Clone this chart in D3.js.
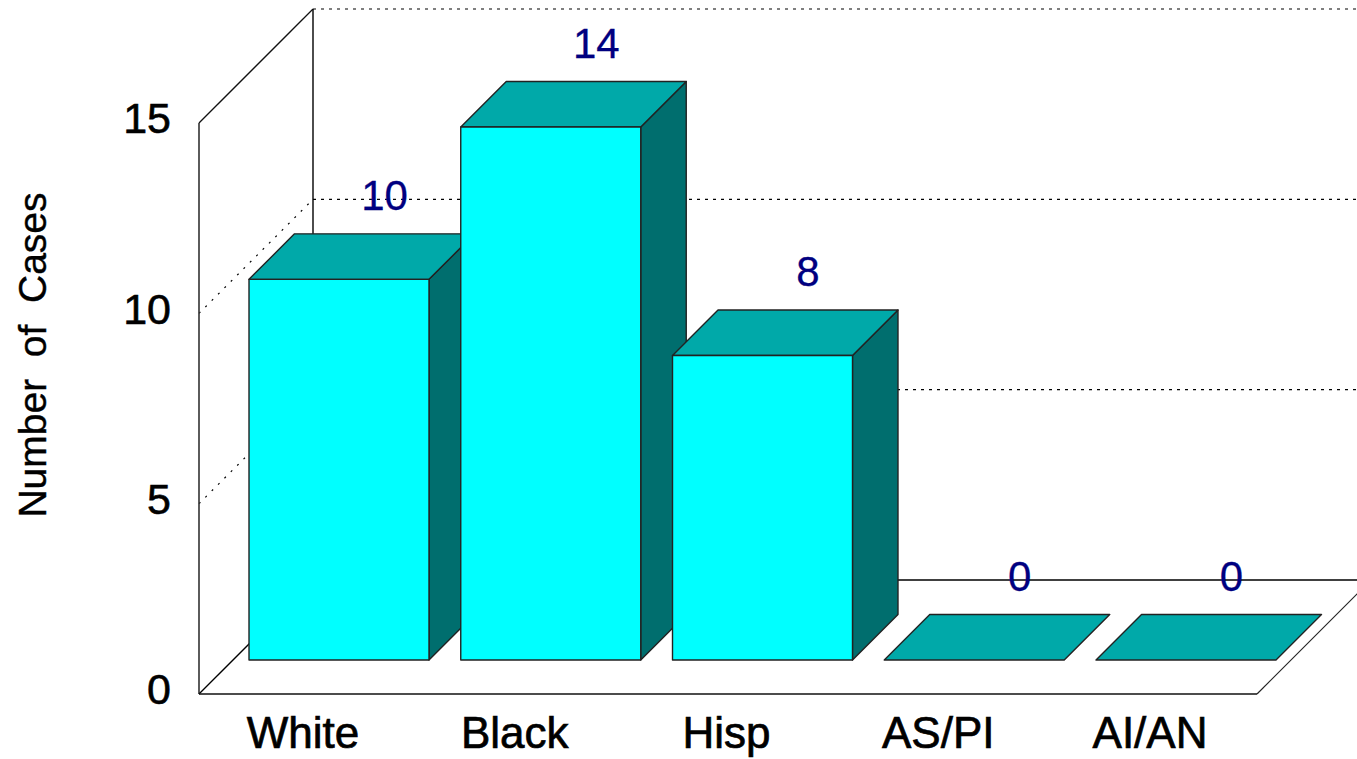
<!DOCTYPE html>
<html>
<head>
<meta charset="utf-8">
<script src="https://cdn.jsdelivr.net/npm/d3@7.9.0/dist/d3.min.js"></script>
<style>
  html, body { margin: 0; padding: 0; background: #fff; overflow: hidden; }
  text { font-family: "Liberation Sans", Arial, sans-serif; }
</style>
</head>
<body>
<svg id="chart" width="1357" height="759"></svg>
<script>
const categories = ['White', 'Black', 'Hisp', 'AS/PI', 'AI/AN'];
const cases = [10, 14, 8, 0, 0];
const yTicks = [0, 5, 10, 15];
const yTitle = 'Number\u00a0 of\u00a0 Cases';

const svg = d3.select('#chart');

// front plane of the box, the back wall is this shifted by wallDx / wallDy
const boxLeft = 199, boxRight = 1257;
const wallDx = 114, wallDy = -114;
// bars sit a bit inside the box
const barShift = -34, barDepth = 45.5;

const y = d3.scaleLinear().domain([0, 15]).range([694, 123]);
const x = d3.scaleBand().domain(categories).range([249, 1276]).paddingInner(0.15);

const line = d3.line();

function stroke(points, color, width, dash) {
  svg.append('path')
    .attr('d', line(points))
    .attr('fill', 'none')
    .attr('stroke', color)
    .attr('stroke-width', width)
    .attr('stroke-dasharray', dash || null);
}

// gridlines, back wall + left wall
yTicks.filter((t) => t > 0).forEach((t) => {
  stroke([[boxLeft + wallDx, y(t) + wallDy], [boxRight + wallDx, y(t) + wallDy]], '#000', 1.2, '3 5');
  if (t < 15) stroke([[boxLeft, y(t)], [boxLeft + wallDx, y(t) + wallDy]], '#000', 1.2, '2 7');
});

// box outline
stroke([[boxLeft, y(15)], [boxLeft + wallDx, y(15) + wallDy]], '#111', 1.3);
stroke([[boxLeft, y(0)], [boxLeft, y(15)]], '#333', 1.6);
stroke([[boxLeft + wallDx, y(0) + wallDy], [boxLeft + wallDx, y(15) + wallDy]], '#000', 1.4);
stroke([[boxLeft, y(0)], [boxLeft + wallDx, y(0) + wallDy]], '#000', 1.3);
stroke([[boxLeft + wallDx, y(0) + wallDy], [boxRight + wallDx, y(0) + wallDy]], '#000', 1.6);
stroke([[boxLeft, y(0)], [boxRight, y(0)]], '#111', 1.4);
stroke([[boxRight, y(0)], [boxRight + wallDx, y(0) + wallDy]], '#222', 1.2);

// bars
const bars = svg.selectAll('g.bar')
  .data(categories.map((c, i) => ({ cat: c, value: cases[i] })))
  .join('g')
  .attr('class', 'bar');

const faceStroke = { stroke: '#222', 'stroke-width': 1.4, 'stroke-linejoin': 'round' };

function face(sel, fill, pointsFn) {
  const p = sel.append('path')
    .attr('d', (d) => line(pointsFn(d)) + 'Z')
    .attr('fill', fill);
  Object.entries(faceStroke).forEach(([k, v]) => p.attr(k, v));
}

const x0 = (d) => x(d.cat);
const x1 = (d) => x(d.cat) + x.bandwidth();
const barBase = () => y(0) + barShift;
const barTop = (d) => y(d.value) + barShift;

// side
face(bars.filter((d) => d.value > 0), '#006e6e', (d) => [
  [x1(d), barTop(d)], [x1(d) + barDepth, barTop(d) - barDepth],
  [x1(d) + barDepth, barBase() - barDepth], [x1(d), barBase()],
]);
// top
face(bars, '#00a9a9', (d) => [
  [x0(d), barTop(d)], [x1(d), barTop(d)],
  [x1(d) + barDepth, barTop(d) - barDepth], [x0(d) + barDepth, barTop(d) - barDepth],
]);
// front
face(bars.filter((d) => d.value > 0), '#00ffff', (d) => [
  [x0(d), barTop(d)], [x1(d), barTop(d)], [x1(d), barBase()], [x0(d), barBase()],
]);

// value labels
bars.append('text')
  .attr('x', (d) => x0(d) + x.bandwidth() / 2 + barDepth)
  .attr('y', (d) => barTop(d) - barDepth - 24)
  .attr('text-anchor', 'middle')
  .attr('font-size', 42)
  .attr('fill', '#000080')
  .attr('stroke', '#000080')
  .attr('stroke-width', 0.3)
  .text((d) => d.value);

// y axis labels
const yAxis = d3.axisLeft(y).tickValues(yTicks).tickSize(0).tickPadding(0);
const yG = svg.append('g').attr('transform', 'translate(171,-4)').call(yAxis);
yG.select('.domain').remove();
yG.selectAll('text')
  .attr('font-size', 43)
  .attr('font-family', '"Liberation Sans", Arial, sans-serif')
  .attr('fill', '#000')
  .attr('stroke', '#000')
  .attr('stroke-width', 0.6);

// category labels
const xAxis = d3.axisBottom(x).tickSize(0).tickPadding(0);
const xG = svg.append('g').attr('transform', 'translate(-36,717)').call(xAxis);
xG.select('.domain').remove();
xG.selectAll('text')
  .attr('font-size', 44)
  .attr('font-family', '"Liberation Sans", Arial, sans-serif')
  .attr('fill', '#000')
  .attr('stroke', '#000')
  .attr('stroke-width', 0.7);

// y title
svg.append('text')
  .attr('transform', 'translate(46,355) rotate(-90)')
  .attr('text-anchor', 'middle')
  .attr('font-size', 39)
  .attr('fill', '#000')
  .attr('stroke', '#000')
  .attr('stroke-width', 0.4)
  .text(yTitle);
</script>
</body>
</html>
